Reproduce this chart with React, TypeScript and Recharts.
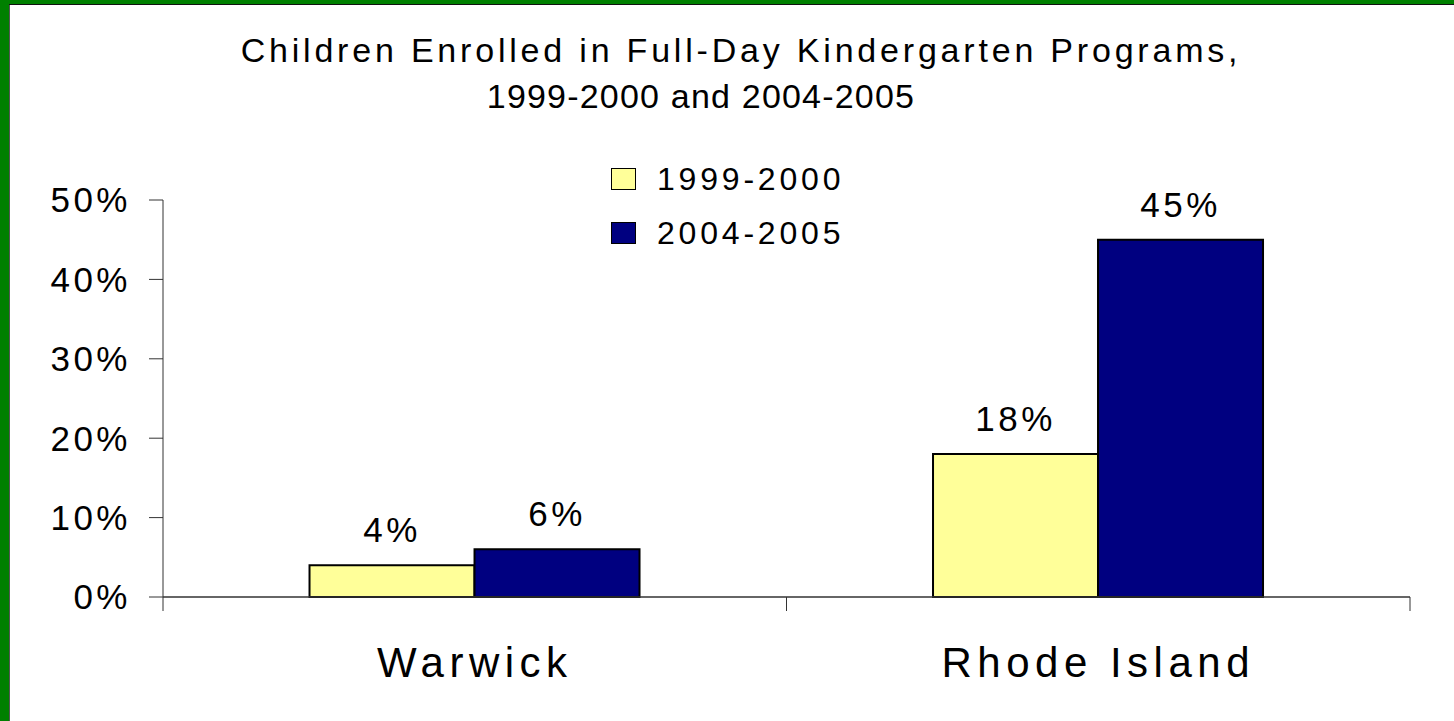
import React from 'react';
import { BarChart, Bar, XAxis, YAxis, LabelList } from 'recharts';

const categories = ['Warwick', 'Rhode Island'];
const seriesNames = ['1999-2000', '2004-2005'];
const values1999 = [4, 18];
const values2004 = [6, 45];
const yTicks = [0, 10, 20, 30, 40, 50];
const titleLines = ['Children Enrolled in Full-Day Kindergarten Programs,', '1999-2000 and 2004-2005'];
const seriesColors = ['#FFFF99', '#000080'];

const FONT = '"Liberation Sans", Arial, sans-serif';

const W = 1454;
const H = 721;
const MARGIN = { top: 200, right: 44, left: 63, bottom: 0 };
const Y_AXIS_W = 100;
const PLOT_W = W - MARGIN.left - Y_AXIS_W - MARGIN.right;

const data = categories.map((name, i) => ({
    name,
    a: values1999[i],
    b: values2004[i],
}));

// category label plus the small Excel-style tick marks at the category boundaries
const CategoryTick = (props: any) => {
    const { x, y, payload, index } = props;
    const band = PLOT_W / categories.length;
    const left = x - band / 2;
    const right = x + band / 2;
    return (
        <g>
            <line x1={left} x2={left} y1={y} y2={y + 14} stroke="#333" strokeWidth={1} />
            {index === categories.length - 1 && (
                <line x1={right} x2={right} y1={y} y2={y + 14} stroke="#333" strokeWidth={1} />
            )}
            <text x={x} y={y + 80} textAnchor="middle" fontSize={42} fill="#000" fontFamily={FONT} letterSpacing={5.5}>
                {payload.value}
            </text>
        </g>
    );
};

const Title = () => (
    <svg width={W} height={130} style={{ position: 'absolute', left: 0, top: 0 }}>
        <text x={741} y={62} textAnchor="middle" fontSize={34} fontFamily={FONT} letterSpacing={3.8} fill="#000">
            {titleLines[0]}
        </text>
        <text x={701} y={108} textAnchor="middle" fontSize={34} fontFamily={FONT} letterSpacing={1.2} fill="#000">
            {titleLines[1]}
        </text>
    </svg>
);

const LegendBox = () => (
    <div style={{ position: 'absolute', left: 611, top: 152, fontFamily: FONT }}>
        {seriesNames.map((s, i) => (
            <div key={s} style={{ display: 'flex', alignItems: 'center', height: 54 }}>
                <div style={{ width: 23, height: 20, background: seriesColors[i], border: '1px solid #000' }} />
                <span style={{ marginLeft: 21, fontSize: 32, letterSpacing: 3.8, color: '#000' }}>{s}</span>
            </div>
        ))}
    </div>
);

export default function App() {
    return (
        <div style={{ position: 'absolute', left: 0, top: 0, width: W, height: H, background: '#fff', overflow: 'hidden' }}>
            {/* green slide frame */}
            <div style={{ position: 'absolute', left: 0, top: 0, width: 9, height: H, background: '#008000' }} />
            <div style={{ position: 'absolute', left: 0, top: 0, width: W, height: 4, background: '#008000' }} />
            <div style={{ position: 'absolute', left: 9, top: 4, width: 1, height: H - 4, background: '#555' }} />
            <div style={{ position: 'absolute', left: 9, top: 4, width: W - 9, height: 1, background: '#111' }} />

            <Title />

            <div style={{ position: 'absolute', left: 0, top: 0 }}>
                <BarChart width={W} height={H} data={data} margin={MARGIN} barCategoryGap="23.5%" barGap={0}>
                    <XAxis dataKey="name" height={124} tickLine={false} tickSize={0} tickMargin={0}
                        axisLine={{ stroke: '#333', strokeWidth: 1.5 }} tick={<CategoryTick />} />
                    <YAxis domain={[0, 50]} ticks={yTicks} width={Y_AXIS_W} tickSize={14} tickMargin={18}
                        tickFormatter={(v) => v + '%'} axisLine={{ stroke: '#333', strokeWidth: 1 }}
                        tickLine={{ stroke: '#333', strokeWidth: 1 }}
                        tick={{ fontSize: 35, fill: '#000', fontFamily: FONT, letterSpacing: 3.5 }} />
                    <Bar dataKey="a" name={seriesNames[0]} fill={seriesColors[0]} stroke="#000" strokeWidth={2} isAnimationActive={false}>
                        <LabelList dataKey="a" position="top" offset={23} formatter={(v) => v + '%'}
                            style={{ fontSize: 35, fill: '#000', fontFamily: FONT, letterSpacing: 3.5 }} />
                    </Bar>
                    <Bar dataKey="b" name={seriesNames[1]} fill={seriesColors[1]} stroke="#000" strokeWidth={2} isAnimationActive={false}>
                        <LabelList dataKey="b" position="top" offset={23} formatter={(v) => v + '%'}
                            style={{ fontSize: 35, fill: '#000', fontFamily: FONT, letterSpacing: 3.5 }} />
                    </Bar>
                </BarChart>
            </div>

            <LegendBox />
        </div>
    );
}
